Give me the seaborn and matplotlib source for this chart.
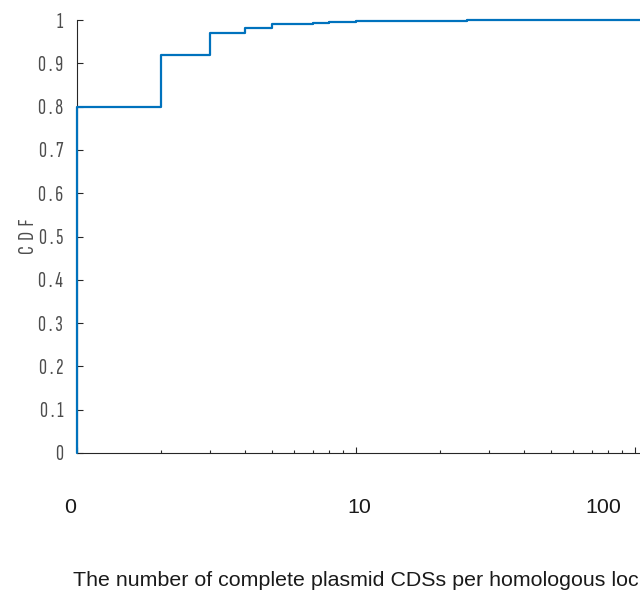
import matplotlib
matplotlib.use("Agg")
import matplotlib.pyplot as plt
import matplotlib.transforms as mtransforms
import seaborn as sns
import pandas as pd

# Cumulative fraction of homologous loci by number of complete plasmid CDSs
cds_per_locus = [1, 1, 2, 3, 4, 5, 6, 7, 8, 10, 13, 18, 25, 40, 60, 104]
cdf_values = [0.0, 0.80, 0.92, 0.97, 0.982, 0.990, 0.991, 0.9937, 0.9954,
              0.997, 0.998, 0.9985, 0.999, 0.9995, 1.0, 1.0]

y_ticks = [0, 0.1, 0.2, 0.3, 0.4, 0.5, 0.6, 0.7, 0.8, 0.9, 1]
y_tick_labels = ["0", "0 . 1", "0 . 2", "0 . 3", "0 . 4", "0 . 5", "0 . 6",
                 "0 . 7", "0 . 8", "0 . 9", "1"]
x_label_text = ["0", "10", "100"]
x_label_pos = [0.944, 10.3, 76.8]

sns.set_theme(style="ticks")
regular = ["Liberation Sans", "DejaVu Sans"]
narrow = ["Sofia Sans Extra Condensed", "DejaVu Sans"]
plt.rcParams["font.family"] = regular

df = pd.DataFrame({"n": cds_per_locus, "cdf": cdf_values})

fig = plt.figure(figsize=(6.4, 5.92), dpi=100)
ax = fig.add_axes([77 / 640, 139 / 592, 563 / 640, 433 / 592])

sns.lineplot(data=df, x="n", y="cdf", ax=ax, estimator=None, sort=False,
             drawstyle="steps-post", color="#0072BD", linewidth=1.6,
             clip_on=False, zorder=3)

ax.set_xscale("log")
ax.set_xlim(1, 104)
ax.set_ylim(0, 1)

ax.set_yticks(y_ticks)
ax.set_yticklabels(y_tick_labels, family=narrow, fontsize=16,
                   fontweight="light", color="#4d4d4d")
ax.set_xticks([1, 10, 100])
ax.set_xticklabels(["", "", ""])
ax.tick_params(axis="both", which="major", direction="in", length=4.5,
               width=0.8, color="#262626")
ax.tick_params(axis="x", which="minor", direction="in", length=2.5,
               width=0.8, color="#262626")
ax.tick_params(axis="y", pad=10)

for s in ["top", "right"]:
    ax.spines[s].set_visible(False)
for s in ["left", "bottom"]:
    ax.spines[s].set_color("#262626")
    ax.spines[s].set_linewidth(0.8)

ax.set_ylabel("C  D  F", family=narrow, fontsize=16, fontweight="light",
              color="#4d4d4d", labelpad=0)
ax.set_xlabel("")

trans = mtransforms.blended_transform_factory(ax.transData, ax.transAxes)
for txt, xp in zip(x_label_text, x_label_pos):
    ax.text(xp, -0.125, txt, transform=trans, ha="center", va="center",
            fontsize=15.4, color="#1a1a1a", clip_on=False)

fig.text(73 / 640, 1 - 580 / 592,
         "The number of complete plasmid CDSs per homologous loci",
         ha="left", va="center", fontsize=15.4, color="#1a1a1a")

fig.savefig("out.png", dpi=100)
